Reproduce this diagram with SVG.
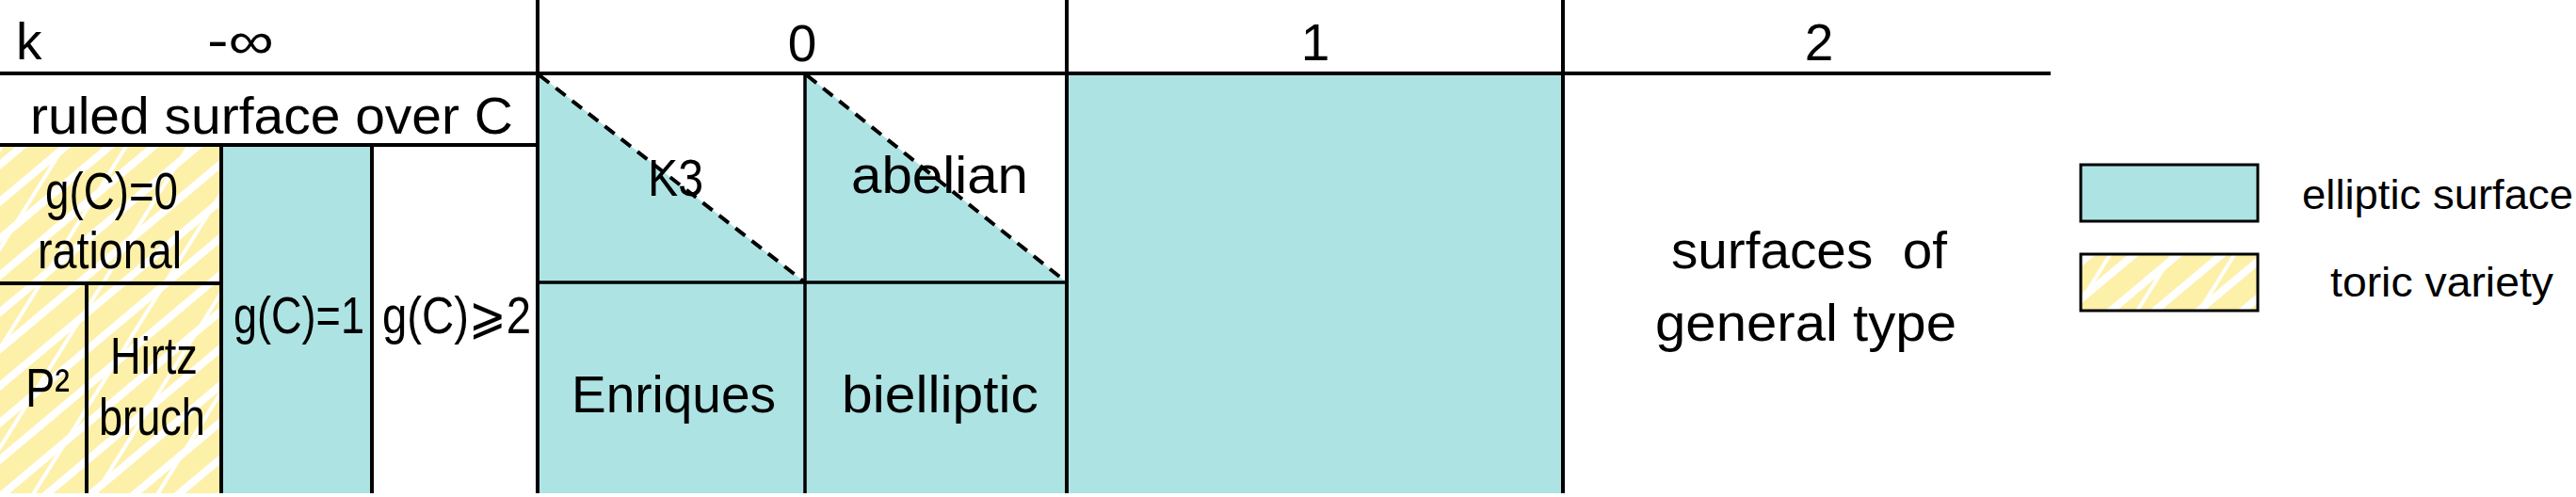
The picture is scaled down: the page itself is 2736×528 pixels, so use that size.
<svg xmlns="http://www.w3.org/2000/svg" width="2736" height="528" viewBox="0 0 2736 528">
<style>
.t{font-family:"Liberation Sans","Noto Sans","DejaVu Sans",sans-serif;font-size:55px;fill:#000}
.c{text-anchor:middle}
.lg{font-size:44px}
.ln{stroke:#000;stroke-width:4;fill:none}
.ln3{stroke:#000;stroke-width:3.5;fill:none}
.cy{fill:#AEE3E4}
.dash{stroke:#000;stroke-width:4;stroke-dasharray:13 9;fill:none}
</style>
<defs>
<pattern id="hatchA" patternUnits="userSpaceOnUse" width="30" height="30" patternTransform="rotate(-40)">
<rect width="30" height="30" fill="#FDF0A8"/>
<rect y="10" width="30" height="8" fill="#FFFFFF"/>
</pattern>
<pattern id="hatchB" patternUnits="userSpaceOnUse" width="56" height="56" patternTransform="rotate(-58)">
<rect y="26" width="56" height="4" fill="#FFFFFF"/>
</pattern>
</defs>

<g id="fills">
<g id="rational-fill">
<rect x="0" y="154" width="235" height="370" fill="url(#hatchA)"/>
<rect x="0" y="154" width="235" height="370" fill="url(#hatchB)"/>
</g>
<rect id="genus1-fill" class="cy" x="235" y="154" width="160" height="370"/>
<polygon id="k3-fill" class="cy" points="571,78 571,300 855,300"/>
<polygon id="abelian-fill" class="cy" points="855,78 855,300 1133,300"/>
<rect id="enriques-fill" class="cy" x="571" y="300" width="284" height="224"/>
<rect id="bielliptic-fill" class="cy" x="855" y="300" width="278" height="224"/>
<rect id="kappa1-fill" class="cy" x="1133" y="78" width="527" height="446"/>
</g>

<g id="grid">
<line class="ln" x1="0" y1="78" x2="2178" y2="78"/>
<line class="ln" x1="0" y1="154" x2="571" y2="154"/>
<line class="ln" x1="571" y1="0" x2="571" y2="524"/>
<line class="ln" x1="1133" y1="0" x2="1133" y2="524"/>
<line class="ln" x1="1660" y1="0" x2="1660" y2="524"/>
<line class="ln3" x1="855" y1="78" x2="855" y2="524"/>
<line class="ln3" x1="571" y1="300" x2="1133" y2="300"/>
<line class="ln" x1="235" y1="154" x2="235" y2="524"/>
<line class="ln" x1="395" y1="154" x2="395" y2="524"/>
<line class="ln" x1="0" y1="301" x2="235" y2="301"/>
<line class="ln" x1="92" y1="301" x2="92" y2="524"/>
<line class="dash" x1="573" y1="80" x2="855" y2="300"/>
<line class="dash" x1="857" y1="80" x2="1133" y2="300"/>
</g>

<g id="header">
<text class="t" x="17" y="63">k</text>
<text class="t" x="220" y="62" textLength="71" lengthAdjust="spacingAndGlyphs">-∞</text>
<text class="t c" x="852" y="65">0</text>
<text class="t c" x="1397" y="64">1</text>
<text class="t c" x="1932" y="64">2</text>
</g>

<g id="ruled">
<text class="t" x="32" y="142" textLength="513" lengthAdjust="spacingAndGlyphs">ruled surface over C</text>
</g>
<g id="rational">
<text class="t" x="48" y="222" textLength="141" lengthAdjust="spacingAndGlyphs">g(C)=0</text>
<text class="t" x="40" y="285" textLength="153" lengthAdjust="spacingAndGlyphs">rational</text>
</g>
<g id="p2">
<text class="t" x="27" y="432" style="font-size:58px" textLength="47" lengthAdjust="spacingAndGlyphs">P²</text>
</g>
<g id="hirzebruch">
<text class="t" x="117" y="397" textLength="93" lengthAdjust="spacingAndGlyphs">Hirtz</text>
<text class="t" x="105" y="462" textLength="113" lengthAdjust="spacingAndGlyphs">bruch</text>
</g>
<g id="genus1">
<text class="t" x="248" y="354" textLength="139" lengthAdjust="spacingAndGlyphs">g(C)=1</text>
</g>
<g id="genus2">
<text class="t" x="406" y="354" textLength="158" lengthAdjust="spacingAndGlyphs">g(C)⩾2</text>
</g>
<g id="k3">
<text class="t" x="688" y="208" textLength="59" lengthAdjust="spacingAndGlyphs">K3</text>
</g>
<g id="abelian">
<text class="t" x="904" y="205" textLength="188" lengthAdjust="spacingAndGlyphs">abelian</text>
</g>
<g id="enriques">
<text class="t" x="607" y="438" textLength="217" lengthAdjust="spacingAndGlyphs">Enriques</text>
</g>
<g id="bielliptic">
<text class="t" x="894" y="438" textLength="209" lengthAdjust="spacingAndGlyphs">bielliptic</text>
</g>
<g id="general">
<text class="t" x="1775" y="285" textLength="293" lengthAdjust="spacingAndGlyphs" style="white-space:pre">surfaces  of</text>
<text class="t" x="1758" y="362" textLength="320" lengthAdjust="spacingAndGlyphs">general type</text>
</g>

<g id="legend-elliptic">
<rect class="cy" x="2210" y="175" width="188" height="60" stroke="#000" stroke-width="3"/>
<text class="t lg" x="2445" y="222" textLength="288" lengthAdjust="spacingAndGlyphs">elliptic surface</text>
</g>
<g id="legend-toric">
<rect x="2210" y="270" width="188" height="60" fill="url(#hatchA)"/>
<rect x="2210" y="270" width="188" height="60" fill="url(#hatchB)" stroke="#000" stroke-width="3"/>
<text class="t lg" x="2475" y="315" textLength="237" lengthAdjust="spacingAndGlyphs">toric variety</text>
</g>
</svg>
